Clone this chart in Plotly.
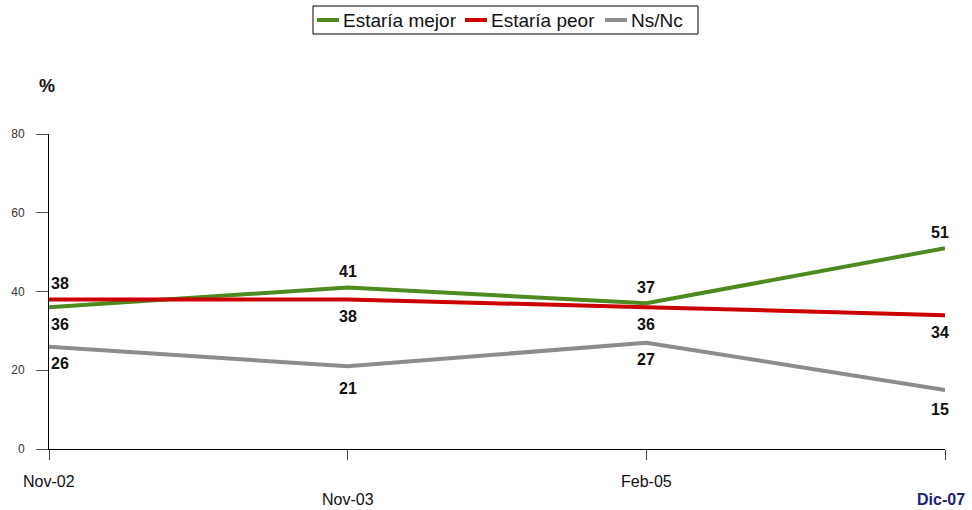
import plotly.graph_objects as go

periods = ["Nov-02", "Nov-03", "Feb-05", "Dic-07"]
mejor = [36, 41, 37, 51]
peor = [38, 38, 36, 34]
nsnc = [26, 21, 27, 15]

series = [
    ("Estaría mejor", mejor, "#4e8a1e", ["below", "above", "above", "above"]),
    ("Estaría peor", peor, "#cc0000", ["above", "below", "below", "below"]),
    ("Ns/Nc", nsnc, "#8c8c8c", ["below", "below", "below", "below"]),
]

W, H = 972, 510
L, R, T, B = 49, 27, 134, 61
FONT = "Liberation Sans, Arial, sans-serif"


def px_x(px):
    return (px - L) / (W - L - R)


def px_y(py):
    return (H - B - py) / (H - T - B)


xs = list(range(len(periods)))
fig = go.Figure()
annotations = []
shapes = []

for name, vals, color, pos in series:
    fig.add_trace(go.Scatter(
        x=xs, y=vals, mode="lines", name=name, showlegend=False,
        line=dict(color=color, width=4), hoverinfo="skip",
    ))
    for i, (v, p) in enumerate(zip(vals, pos)):
        xshift = 11 if i == 0 else (-5 if i == len(vals) - 1 else 0)
        yshift = 16 if p == "above" else -17
        if name == "Ns/Nc" and i == 1:
            yshift = -22
        if name == "Ns/Nc" and i == 3:
            yshift = -20
        annotations.append(dict(
            x=i, y=v, xref="x", yref="y", text=f"<b>{v}</b>", showarrow=False,
            xshift=xshift, yshift=yshift,
            font=dict(family=FONT, size=16, color="#111111"),
        ))

# staggered category labels under the axis
for i, lab in enumerate(periods):
    low = i % 2 == 1
    last = i == len(periods) - 1
    annotations.append(dict(
        x=i, y=0, xref="x", yref="y", showarrow=False,
        text=f"<b>{lab}</b>" if last else lab,
        yshift=-32 if not low else -50,
        xshift=-4 if last else 0,
        font=dict(family=FONT, size=16,
                  color="#1c1c7a" if last else "#111111"),
    ))

# axis unit
annotations.append(dict(
    x=px_x(47), y=px_y(86), xref="paper", yref="paper", showarrow=False,
    xanchor="center", yanchor="middle",
    text="<b>%</b>", font=dict(family=FONT, size=18, color="#111111"),
))

# legend box with short line keys
shapes.append(dict(
    type="rect", xref="paper", yref="paper",
    x0=px_x(313), x1=px_x(698), y0=px_y(6), y1=px_y(34),
    line=dict(color="#000000", width=1), fillcolor="white", layer="above",
))
legend_pos = [(317, 341), (465, 489), (605, 629)]
for (name, _, color, _), (lx, tx) in zip(series, legend_pos):
    shapes.append(dict(
        type="line", xref="paper", yref="paper",
        x0=px_x(lx), x1=px_x(lx + 22), y0=px_y(20), y1=px_y(20),
        line=dict(color=color, width=4), layer="above",
    ))
    annotations.append(dict(
        x=px_x(tx), y=px_y(20.5), xref="paper", yref="paper", showarrow=False,
        xanchor="left", yanchor="middle", text=name,
        font=dict(family=FONT, size=19, color="#111111"),
    ))

fig.update_layout(
    width=W, height=H,
    margin=dict(l=L, r=R, t=T, b=B),
    paper_bgcolor="white", plot_bgcolor="white",
    font=dict(family=FONT, color="#111111"),
    showlegend=False,
    annotations=annotations,
    shapes=shapes,
    xaxis=dict(
        range=[0, 3], tickvals=xs, ticktext=["", "", "", ""],
        showline=True, linecolor="#000000", linewidth=1,
        ticks="outside", ticklen=10, tickcolor="#444444",
        showgrid=False, zeroline=False, fixedrange=True,
    ),
    yaxis=dict(
        range=[0, 80], tickvals=[0, 20, 40, 60, 80],
        showline=True, linecolor="#000000", linewidth=1,
        ticks="outside", ticklen=12, tickcolor="#555555",
        tickfont=dict(size=12, color="#333333"),
        ticklabelstandoff=9,
        showgrid=False, zeroline=False, fixedrange=True,
    ),
)

fig.write_html("out.html")
